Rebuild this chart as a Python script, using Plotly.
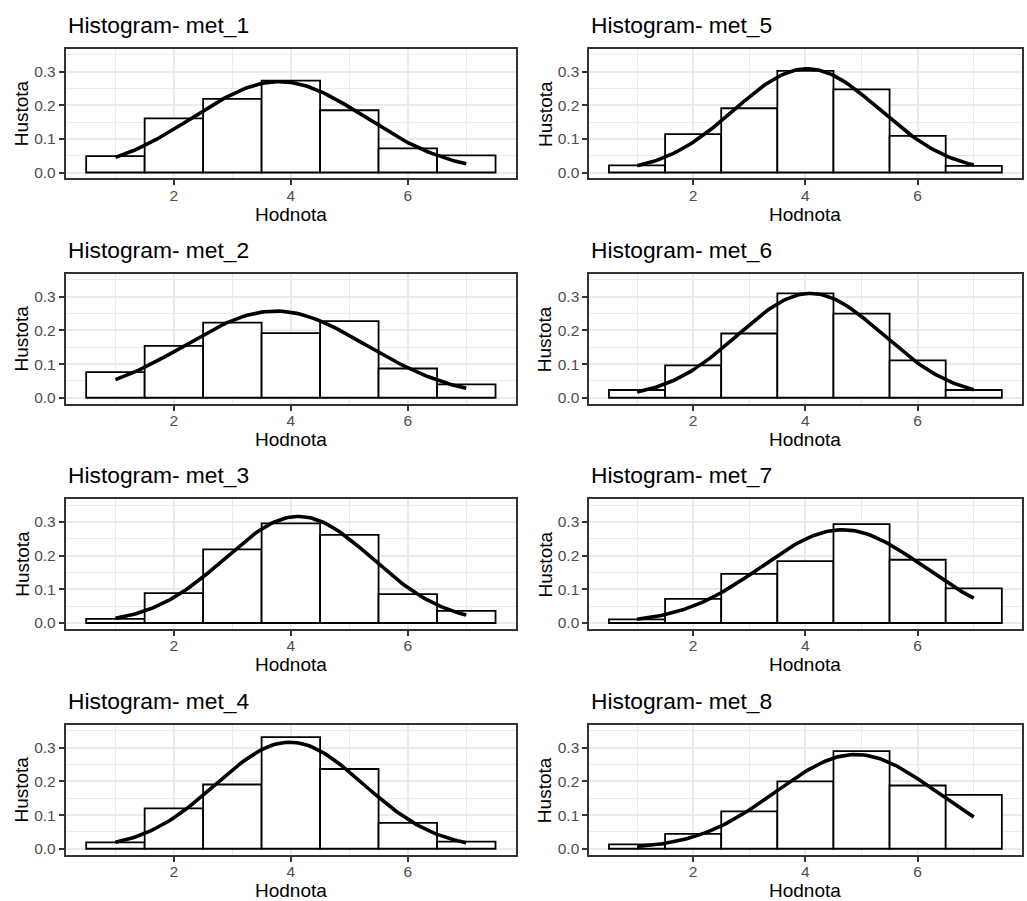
import numpy as np
import plotly.graph_objects as go

# ---- data ----
bin_centers = [1, 2, 3, 4, 5, 6, 7]
met_1 = [0.049, 0.161, 0.219, 0.273, 0.185, 0.072, 0.051]
met_2 = [0.076, 0.154, 0.223, 0.192, 0.228, 0.087, 0.040]
met_3 = [0.012, 0.089, 0.219, 0.296, 0.262, 0.086, 0.036]
met_4 = [0.019, 0.120, 0.191, 0.332, 0.237, 0.077, 0.021]
met_5 = [0.021, 0.114, 0.191, 0.302, 0.247, 0.109, 0.020]
met_6 = [0.023, 0.096, 0.191, 0.310, 0.250, 0.111, 0.023]
met_7 = [0.011, 0.072, 0.146, 0.184, 0.294, 0.188, 0.103]
met_8 = [0.013, 0.044, 0.111, 0.200, 0.290, 0.188, 0.160]
names = ["met_1", "met_2", "met_3", "met_4", "met_5", "met_6", "met_7", "met_8"]
# normal curve parameters (mean, sd) per variable
curve_mean = [3.80, 3.74, 4.13, 3.98, 4.03, 4.09, 4.66, 4.90]
curve_sd = [1.478, 1.549, 1.26, 1.26, 1.295, 1.287, 1.44, 1.425]
x_ticks = [2, 4, 6]
y_ticks = [0.0, 0.1, 0.2, 0.3]
y_tick_labels = ["0.0", "0.1", "0.2", "0.3"]

series = [met_1, met_2, met_3, met_4, met_5, met_6, met_7, met_8]

W, H = 1027, 901
FONT = "Liberation Sans, Arial, Helvetica, sans-serif"
col_left = [65.7, 589.3]
col_right = [516.0, 1021.5]
row_top = [49.0, 275.0, 501.0, 727.5]
panel_h = 130.0

fig = go.Figure()
annotations = []
layout = dict(
    width=W, height=H,
    margin=dict(l=0, r=0, t=0, b=0),
    plot_bgcolor="white", paper_bgcolor="white",
    showlegend=False,
    font=dict(family=FONT),
)

for i, (name, vals) in enumerate(zip(names, series)):
    col = i // 4
    row = i % 4
    k = i + 1
    xa = "x" if k == 1 else f"x{k}"
    ya = "y" if k == 1 else f"y{k}"
    xkey = "xaxis" if k == 1 else f"xaxis{k}"
    ykey = "yaxis" if k == 1 else f"yaxis{k}"

    fig.add_trace(go.Bar(
        x=bin_centers, y=vals, width=1,
        marker=dict(color="white", line=dict(color="black", width=1.8)),
        xaxis=xa, yaxis=ya, hoverinfo="skip",
    ))
    cx = np.linspace(1, 7, 121)
    m, s = curve_mean[i], curve_sd[i]
    cy = np.exp(-0.5 * ((cx - m) / s) ** 2) / (s * np.sqrt(2 * np.pi))
    fig.add_trace(go.Scatter(
        x=cx, y=cy, mode="lines",
        line=dict(color="black", width=3.6),
        xaxis=xa, yaxis=ya, hoverinfo="skip",
    ))

    x0 = col_left[col] / W
    x1 = col_right[col] / W
    top = row_top[row]
    bot = top + panel_h
    y1 = 1 - top / H
    y0 = 1 - bot / H

    common = dict(
        showline=True, mirror=True, linecolor="#333333", linewidth=1.8,
        ticks="outside", ticklen=5, tickwidth=1.8, tickcolor="#333333",
        showgrid=True, gridcolor="#EBEBEB", gridwidth=1.8,
        zeroline=False,
        tickfont=dict(family=FONT, size=15.5, color="#4D4D4D"),
    )
    layout[xkey] = dict(
        common, domain=[x0, x1], anchor=ya, range=[0.15, 7.85],
        tickvals=x_ticks, ticklabelstandoff=-3,
        minor=dict(tickvals=[1, 3, 5, 7], showgrid=True, gridcolor="#EBEBEB",
                   gridwidth=0.9, ticks=""),
    )
    layout[ykey] = dict(
        common, domain=[y0, y1], anchor=xa, range=[-0.0175, 0.3675],
        tickvals=y_ticks, ticktext=y_tick_labels,
        minor=dict(tickvals=[0.05, 0.15, 0.25, 0.35], showgrid=True,
                   gridcolor="#EBEBEB", gridwidth=0.9, ticks=""),
    )

    # panel title
    annotations.append(dict(
        text=f"Histogram- {name}", xref="paper", yref="paper",
        x=col_left[col] / W, y=1 - (top - 24) / H,
        xanchor="left", yanchor="middle", showarrow=False,
        font=dict(family=FONT, size=22.8, color="black"),
    ))
    # x axis title
    annotations.append(dict(
        text="Hodnota", xref="paper", yref="paper",
        x=(col_left[col] + col_right[col]) / 2 / W, y=1 - (bot + 36) / H,
        xanchor="center", yanchor="middle", showarrow=False,
        font=dict(family=FONT, size=19, color="black"),
    ))
    # y axis title
    annotations.append(dict(
        text="Hustota", xref="paper", yref="paper",
        x=(col_left[col] - 44) / W, y=1 - (top + panel_h / 2) / H,
        xanchor="center", yanchor="middle", showarrow=False, textangle=-90,
        font=dict(family=FONT, size=19, color="black"),
    ))

layout["annotations"] = annotations
fig.update_layout(**layout)
fig.write_html("out.html")
